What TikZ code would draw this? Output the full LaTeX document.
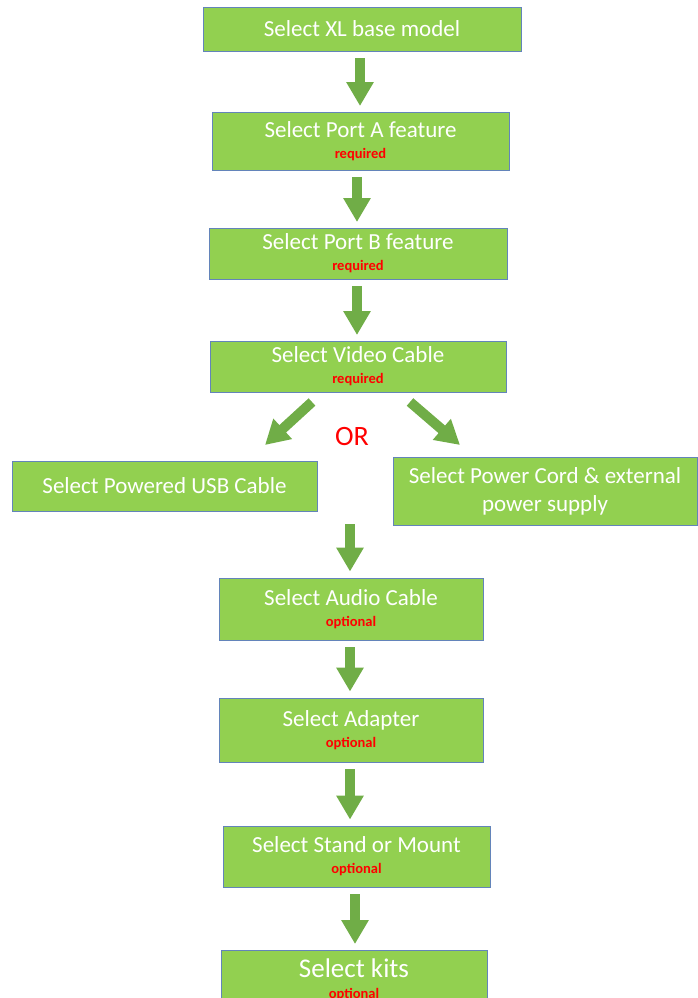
\documentclass[tikz,border=0pt]{standalone}
\usepackage{fontspec}
\setmainfont{Carlito}
\usetikzlibrary{arrows.meta}
\definecolor{boxgreen}{HTML}{92D050}
\definecolor{boxline}{HTML}{6384BA}
\definecolor{flowgreen}{HTML}{70AD47}
\definecolor{notered}{HTML}{FF0000}
\newcommand{\sublabel}[1]{\\[-4pt]{\fontsize{14.5}{15}\selectfont\bfseries\color{notered}#1}}
\tikzset{
	stepbox/.style={draw=boxline,fill=boxgreen,line width=0.9pt,text=white,align=center,
		inner sep=0pt,font=\fontsize{23}{25}\selectfont},
	flow/.style={draw=flowgreen,line width=10pt,-{Triangle[width=26pt,length=24pt]},
		shorten <=7pt,shorten >=6pt}
}
\begin{document}
\begin{tikzpicture}[x=1pt,y=-1pt]
		\useasboundingbox (0,0) rectangle (697,998);
		\node (xl) at (362,29) [stepbox,minimum width=318pt,minimum height=44pt] {Select XL base model};
		\node (porta) at (360.5,141) [stepbox,minimum width=297pt,minimum height=58pt] {Select Port A feature\sublabel{required}};
		\node (portb) at (358,253.5) [stepbox,minimum width=298pt,minimum height=51pt] {Select Port B feature\sublabel{required}};
		\node (video) at (358,366.5) [stepbox,minimum width=296pt,minimum height=51pt] {Select Video Cable\sublabel{required}};
		\node (usb) at (164.5,486) [stepbox,minimum width=305pt,minimum height=50pt] {Select Powered USB Cable};
		\node (cord) at (545,491) [stepbox,minimum width=304pt,minimum height=68pt] {Select Power Cord \& external\\[3pt]power supply};
		\node (audio) at (351,609) [stepbox,minimum width=264pt,minimum height=62pt] {Select Audio Cable\sublabel{optional}};
		\node (adapter) at (351,730) [stepbox,minimum width=264pt,minimum height=64pt] {Select Adapter\sublabel{optional}};
		\node (stand) at (356.5,856.5) [stepbox,minimum width=267pt,minimum height=61pt] {Select Stand or Mount\sublabel{optional}};
		\node (kits) at (354,980) [stepbox,minimum width=266pt,minimum height=60pt] {{\fontsize{27}{28}\selectfont Select kits}\sublabel{optional}};
		\node (or) at (352,437) [text=notered,font=\fontsize{28}{30}\selectfont] {OR};
		\coordinate (splitl) at (312,402);
		\coordinate (splitr) at (410,402);
		\coordinate (join) at (350,517);
		\draw[flow] (360,51) -- (360,112);
		\draw[flow] (357,170) -- (357,228);
		\draw[flow] (357,279) -- (357,341);
		\draw[flow,shorten <=0pt,shorten >=0pt] (splitl) -- (265,445);
		\draw[flow,shorten <=0pt,shorten >=0pt] (splitr) -- (460,445);
		\draw[flow] (join) -- (join |- audio.north);
		\draw[flow] (audio.south -| join) -- (join |- adapter.north);
		\draw[flow] (adapter.south -| join) -- (join |- stand.north);
		\draw[flow] (355,887) -- (355,950);
	\end{tikzpicture}
\end{document}
